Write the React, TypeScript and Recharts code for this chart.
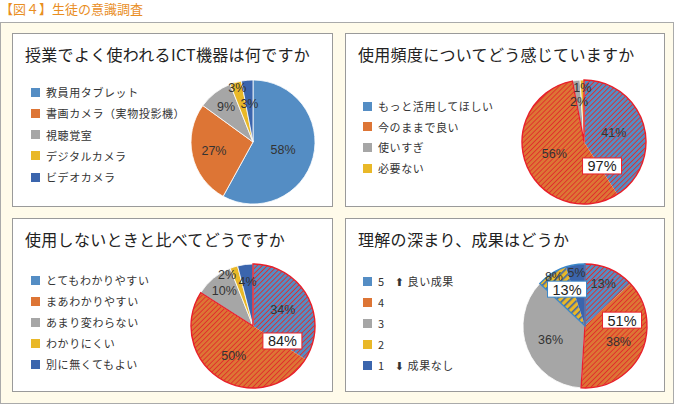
import React from "react";
import { PieChart, Pie, Cell } from "recharts";

// 授業でよく使われるICT機器
const ictNames = ["教員用タブレット", "書画カメラ（実物投影機）", "視聴覚室", "デジタルカメラ", "ビデオカメラ"];
const ictValues = [58, 27, 9, 3, 3];

// 使用頻度
const freqNames = ["もっと活用してほしい", "今のままで良い", "使いすぎ", "必要ない"];
const freqValues = [41, 56, 2, 1];

// 使用しないときと比べて
const compareNames = ["とてもわかりやすい", "まあわかりやすい", "あまり変わらない", "わかりにくい", "別に無くてもよい"];
const compareValues = [34, 50, 10, 2, 4];

// 理解の深まり
const resultNames = ["5", "4", "3", "2", "1"];
const resultNotes = ["⬆ 良い成果", "", "", "", "⬇ 成果なし"];
const resultValues = [13, 38, 36, 8, 5];

const BLUE = "#548dc4";
const ORANGE = "#dd7535";
const GRAY = "#a6a6a6";
const YELLOW = "#e9b828";
const NAVY = "#3b65ad";
const RED = "#e8202a";
const STRIPE = "#e02c2c";
const LINE_BLUE = "#3a86c8";

const legendColors = [BLUE, ORANGE, GRAY, YELLOW, NAVY];
const RAD = Math.PI / 180;

const sum = (arr: number[], idx: number[]) => idx.reduce((s, i) => s + arr[i], 0);

const freqGroups = [{ value: sum(freqValues, [0, 1]) }, { value: sum(freqValues, [2, 3]) }];
const compareGroups = [{ value: sum(compareValues, [0, 1]) }, { value: sum(compareValues, [2, 3, 4]) }];
const resultGroups = [
  { value: sum(resultValues, [0, 1]) },
  { value: resultValues[2] },
  { value: sum(resultValues, [3, 4]) },
];

const toRows = (values: number[], names: string[]) => values.map((v, i) => ({ name: names[i], value: v }));

type Spot = { angle: number; dist: number; color: string } | null;

const sliceLabel = (radii: number[], nudge: number[]) => (p: any) => {
  const r = radii[p.index];
  const a = (p.midAngle + (nudge[p.index] || 0)) * RAD;
  const x = p.cx + r * Math.cos(-a);
  const y = p.cy + r * Math.sin(-a);
  return (
    <text
      key={"l" + p.index}
      x={x}
      y={y}
      textAnchor="middle"
      dominantBaseline="central"
      fontSize={12.5}
      fill="#333"
      fontFamily="'Liberation Sans', Arial, sans-serif"
    >
      {p.value}%
    </text>
  );
};

const boxLabel = (spots: Spot[]) => (p: any) => {
  const s = spots[p.index];
  if (!s) return <g key={"b" + p.index} />;
  const x = p.cx + s.dist * Math.cos(s.angle * RAD);
  const y = p.cy - s.dist * Math.sin(s.angle * RAD);
  return (
    <g key={"b" + p.index}>
      <rect x={x - 19.5} y={y - 8} width={39} height={16} fill="#fff" stroke={s.color} strokeWidth={1} />
      <text
        x={x}
        y={y + 0.5}
        textAnchor="middle"
        dominantBaseline="central"
        fontSize={14.5}
        fill="#222"
        fontFamily="'Liberation Sans', Arial, sans-serif"
      >
        {p.value}%
      </text>
    </g>
  );
};

const Patterns = ({ id }: { id: string }) => (
  <defs>
    <pattern id={id + "b"} patternUnits="userSpaceOnUse" width={3.6} height={3.6} patternTransform="rotate(45)">
      <rect width={3.6} height={3.6} fill={BLUE} />
      <rect width={0.9} height={3.6} fill={STRIPE} />
    </pattern>
    <pattern id={id + "o"} patternUnits="userSpaceOnUse" width={3.6} height={3.6} patternTransform="rotate(45)">
      <rect width={3.6} height={3.6} fill={ORANGE} />
      <rect width={0.9} height={3.6} fill={STRIPE} />
    </pattern>
    <pattern id={id + "y"} patternUnits="userSpaceOnUse" width={5} height={5} patternTransform="rotate(45)">
      <rect width={5} height={5} fill={YELLOW} />
      <rect width={1.6} height={5} fill={NAVY} />
    </pattern>
  </defs>
);

type PanelProps = {
  id: string;
  left: number;
  top: number;
  width: number;
  title: string;
  names: string[];
  notes?: string[];
  values: number[];
  fills: string[];
  strokes: string[];
  legendTop: number;
  legendGap: number;
  legendLeft: number;
  cx: number;
  cy: number;
  radii: number[];
  nudge?: number[];
  groups?: { value: number }[];
  groupStrokes?: string[];
  spots?: Spot[];
};

const Panel = (p: PanelProps) => {
  const h = 174;
  return (
    <div
      style={{
        position: "absolute",
        left: p.left,
        top: p.top,
        width: p.width,
        height: h,
        background: "#fff",
        border: "1px solid #9a9a9a",
        boxSizing: "border-box",
      }}
    >
      <div
        style={{
          position: "absolute",
          left: 12,
          top: 10,
          fontSize: 16,
          lineHeight: "20px",
          color: "#222",
          whiteSpace: "nowrap",
          letterSpacing: 0.3,
        }}
      >
        {p.title}
      </div>
      {p.names.map((n, i) => (
        <div
          key={n + i}
          style={{
            position: "absolute",
            left: p.legendLeft,
            top: p.legendTop + i * p.legendGap - 8,
            height: 16,
            display: "flex",
            alignItems: "center",
            fontSize: 11,
            color: "#333",
            whiteSpace: "nowrap",
            letterSpacing: 0.6,
          }}
        >
          <span style={{ width: 9, height: 9, background: legendColors[i], display: "inline-block", marginRight: 6 }} />
          <span>{n}</span>
          {p.notes && p.notes[i] ? (
            <span style={{ marginLeft: 10 }}>
              <span style={{ fontFamily: "'DejaVu Sans', sans-serif", fontSize: 11 }}>{p.notes[i].slice(0, 1)}</span>
              <span style={{ marginLeft: 3 }}>{p.notes[i].slice(2)}</span>
            </span>
          ) : null}
        </div>
      ))}
      <div style={{ position: "absolute", left: 0, top: 0 }}>
        <PieChart width={p.width - 2} height={h - 2}>
          <Patterns id={p.id} />
          <Pie
            data={toRows(p.values, p.names)}
            dataKey="value"
            nameKey="name"
            cx={p.cx}
            cy={p.cy}
            outerRadius={62}
            startAngle={90}
            endAngle={-270}
            isAnimationActive={false}
            labelLine={false}
            label={sliceLabel(p.radii, p.nudge || [])}
          >
            {p.values.map((_, i) => (
              <Cell key={i} fill={p.fills[i]} stroke={p.strokes[i]} strokeWidth={0.8} />
            ))}
          </Pie>
          {p.groups ? (
            <Pie
              data={p.groups}
              dataKey="value"
              cx={p.cx}
              cy={p.cy}
              outerRadius={62}
              startAngle={90}
              endAngle={-270}
              isAnimationActive={false}
              labelLine={false}
              label={boxLabel(p.spots || [])}
            >
              {p.groups.map((_, i) => (
                <Cell
                  key={i}
                  fill="none"
                  stroke={p.groupStrokes ? p.groupStrokes[i] : "none"}
                  strokeWidth={1.4}
                />
              ))}
            </Pie>
          ) : null}
        </PieChart>
      </div>
    </div>
  );
};

export default function App() {
  return (
    <div
      style={{
        position: "absolute",
        left: 0,
        top: 0,
        width: 679,
        height: 405,
        background: "#fff",
        fontFamily: "'Noto Sans CJK JP', 'Noto Sans', sans-serif",
      }}
    >
      <div
        style={{
          position: "absolute",
          left: 0,
          top: 0,
          fontSize: 13,
          lineHeight: "17px",
          color: "#e98e1f",
          whiteSpace: "nowrap",
        }}
      >
        【図４】生徒の意識調査
      </div>
      <div
        style={{
          position: "absolute",
          left: 0,
          top: 22,
          width: 674,
          height: 382,
          background: "#fffbea",
          border: "1px solid #aaa",
          boxSizing: "border-box",
        }}
      />
      <Panel
        id="p1"
        left={12}
        top={33}
        width={321}
        title="授業でよく使われるICT機器は何ですか"
        names={ictNames}
        values={ictValues}
        fills={[BLUE, ORANGE, GRAY, YELLOW, NAVY]}
        strokes={["#fff", "#fff", "#fff", "#fff", "#fff"]}
        legendTop={58}
        legendGap={21.3}
        legendLeft={18}
        cx={235}
        cy={103}
        radii={[31, 40, 44, 56, 38]}
      />
      <Panel
        id="p2"
        left={345}
        top={33}
        width={320}
        title="使用頻度についてどう感じていますか"
        names={freqNames}
        values={freqValues}
        fills={["url(#p2b)", "url(#p2o)", GRAY, YELLOW]}
        strokes={["none", "none", "#fff", "#fff"]}
        legendTop={72}
        legendGap={20.7}
        legendLeft={17}
        cx={233}
        cy={103}
        radii={[31, 32, 40, 54]}
        groups={freqGroups}
        groupStrokes={[RED, "none"]}
        spots={[{ angle: -53, dist: 30, color: RED }, null]}
      />
      <Panel
        id="p3"
        left={12}
        top={218}
        width={321}
        title="使用しないときと比べてどうですか"
        names={compareNames}
        values={compareValues}
        fills={["url(#p3b)", "url(#p3o)", GRAY, YELLOW, NAVY]}
        strokes={["none", "none", "#fff", "#fff", "#fff"]}
        legendTop={61}
        legendGap={21}
        legendLeft={18}
        cx={235}
        cy={102}
        radii={[34, 36, 45, 57, 44]}
        nudge={[0, 0, 0, 9, 0]}
        groups={compareGroups}
        groupStrokes={[RED, "none"]}
        spots={[{ angle: -27, dist: 33, color: RED }, null]}
      />
      <Panel
        id="p4"
        left={345}
        top={218}
        width={320}
        title="理解の深まり、成果はどうか"
        names={resultNames}
        notes={resultNotes}
        values={resultValues}
        fills={["url(#p4b)", "url(#p4o)", GRAY, "url(#p4y)", NAVY]}
        strokes={["none", "none", "#fff", "none", "none"]}
        legendTop={62}
        legendGap={21}
        legendLeft={17}
        cx={234}
        cy={102}
        radii={[46, 37, 37, 58, 54]}
        groups={resultGroups}
        groupStrokes={[RED, "none", LINE_BLUE]}
        spots={[{ angle: 9, dist: 37.5, color: RED }, null, { angle: 116, dist: 41, color: LINE_BLUE }]}
      />
    </div>
  );
}
